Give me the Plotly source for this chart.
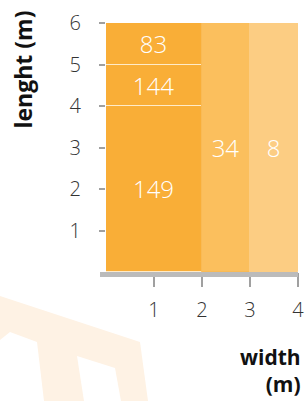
import plotly.graph_objects as go

# Data
x_centers = [1, 1, 1, 2.5, 3.5]
widths = [2, 2, 2, 1, 1]
bases = [0, 4, 5, 0, 0]
heights = [4, 1, 1, 6, 6]
values = [149, 144, 83, 34, 8]
colors = ["#F9AE37", "#F9AE37", "#F9AE37", "#FBBF5D", "#FCCD83"]
line_colors = ["#FFEBC8", "#FFEBC8", "#FFEBC8", "#F9BA55", "#FCCD83"]
x_ticks = [1, 2, 3, 4]
y_ticks = [1, 2, 3, 4, 5, 6]

W, H = 306, 401
L, R, T, B = 106, 8, 23, 129
pw, ph = W - L - R, H - T - B


def px(x):
    return (x - L) / pw


def py(y):
    return (H - B - y) / ph


FONT = "Open Sans"

fig = go.Figure()
fig.add_trace(go.Bar(
    x=x_centers, y=heights, base=bases, width=widths,
    marker=dict(color=colors, line=dict(color=line_colors, width=1)),
    text=[str(v) for v in values], textposition="inside",
    insidetextanchor="middle", textangle=0,
    textfont=dict(family=FONT, size=24, color="white", weight=300),
    hoverinfo="skip",
))

# faint watermark
def poly(pts):
    d = "M " + " L ".join(f"{px(a):.4f},{py(b):.4f}" for a, b in pts) + " Z"
    return d

shapes = [
    dict(type="path", xref="paper", yref="paper", layer="below",
         path=poly([(0, 296), (140, 342), (148, 401), (0, 401)]),
         fillcolor="#FEF2E4", line=dict(width=0)),
    dict(type="path", xref="paper", yref="paper", layer="below",
         path=poly([(0, 340), (10, 332), (37, 342), (44, 401), (0, 401)]),
         fillcolor="white", line=dict(width=0)),
    dict(type="path", xref="paper", yref="paper", layer="below",
         path=poly([(77, 356), (115, 368), (121, 401), (84, 401)]),
         fillcolor="white", line=dict(width=0)),
    dict(type="line", xref="paper", yref="paper", layer="above",
         x0=px(100), x1=px(298), y0=py(274.5), y1=py(274.5),
         line=dict(color="#BBBBBB", width=5)),
]

fig.update_layout(
    template="none",
    width=W, height=H,
    margin=dict(l=L, r=R, t=T, b=B, pad=0),
    paper_bgcolor="white", plot_bgcolor="rgba(0,0,0,0)",
    showlegend=False, bargap=0,
    font=dict(family=FONT),
    shapes=shapes,
    xaxis=dict(range=[0, 4], tickvals=x_ticks, ticks="outside", ticklen=14,
               tickwidth=2, tickcolor="#A0A0A0", showgrid=False, zeroline=False,
               showline=False, ticklabelstandoff=6, automargin=False,
               tickfont=dict(family=FONT, size=20, color="#333333", weight=300),
               fixedrange=True),
    yaxis=dict(range=[0, 6], tickvals=y_ticks, ticks="outside", ticklen=6,
               tickwidth=2, tickcolor="#A0A0A0", showgrid=False, zeroline=False,
               showline=False, ticklabelstandoff=14, automargin=False,
               tickfont=dict(family=FONT, size=20, color="#333333", weight=300),
               fixedrange=True),
    annotations=[
        dict(text="<b>lenght (m)</b>", textangle=-90, xref="paper", yref="paper",
             x=px(22.5), y=py(70), showarrow=False, xanchor="center", yanchor="middle",
             font=dict(family=FONT, size=23, color="#111111")),
        dict(text="<b>width<br>(m)</b>", xref="paper", yref="paper", align="right",
             x=px(303), y=py(370), showarrow=False, xanchor="right", yanchor="middle",
             font=dict(family=FONT, size=21, color="#111111")),
    ],
)

fig.write_html("out.html", config={"displayModeBar": False},
               post_script="document.body.style.margin='0';document.body.style.overflow='hidden';")
